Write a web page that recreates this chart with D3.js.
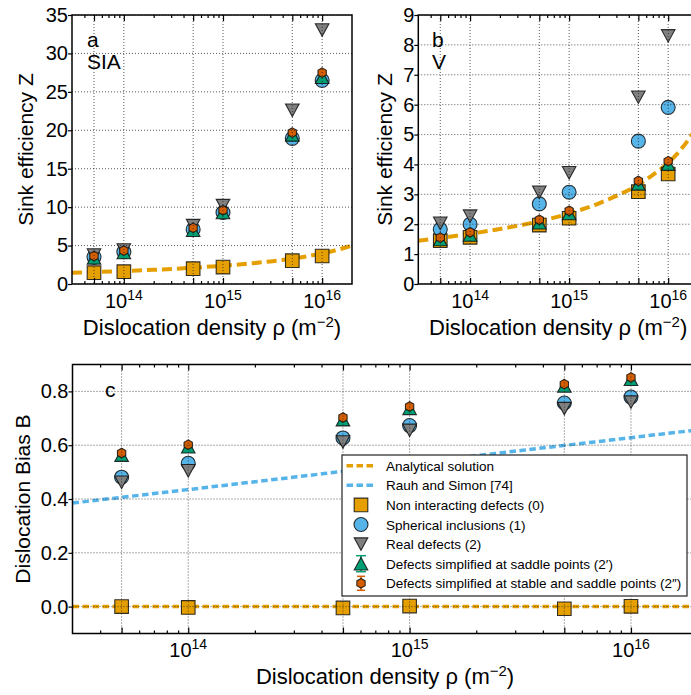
<!DOCTYPE html>
<html>
<head>
<meta charset="utf-8">
<script src="https://cdn.jsdelivr.net/npm/d3@7"></script>
<style>
  body { margin: 0; background: #fff; }
  text { font-family: "Liberation Sans", Arial, Helvetica, sans-serif; fill: #000; }
</style>
</head>
<body>
<svg id="fig" width="691" height="695"></svg>
<script>
// Dislocation densities (m^-2) at which simulations were run
const densities = [5e13, 1e14, 5e14, 1e15, 5e15, 1e16];

// (a) SIA sink efficiency Z
const siaNonInteracting = [1.47, 1.60, 2.00, 2.20, 3.04, 3.64];
const siaSpherical      = [3.50, 4.20, 7.10, 9.30, 18.95, 26.50];
const siaReal           = [3.77, 4.42, 7.60, 10.20, 22.60, 33.05];
const siaSaddle         = [3.40, 4.10, 7.00, 9.30, 19.40, 26.90];
const siaStableSaddle   = [3.64, 4.34, 7.30, 9.60, 19.70, 27.50];

// (b) vacancy sink efficiency Z
const vNonInteracting = [1.45, 1.56, 1.97, 2.20, 3.09, 3.68];
const vSpherical      = [1.83, 2.00, 2.68, 3.07, 4.78, 5.91];
const vReal           = [2.03, 2.27, 3.07, 3.72, 6.25, 8.30];
const vSaddle         = [1.49, 1.64, 2.05, 2.36, 3.35, 4.01];
const vStableSaddle   = [1.55, 1.73, 2.15, 2.45, 3.45, 4.11];

// (c) dislocation bias B
const biasNonInteracting = [0.000, -0.003, -0.005, 0.002, -0.008, 0.001];
const biasSpherical      = [0.481, 0.533, 0.627, 0.673, 0.757, 0.779];
const biasReal           = [0.462, 0.505, 0.612, 0.655, 0.736, 0.760];
const biasSaddle         = [0.563, 0.594, 0.695, 0.737, 0.820, 0.845];
const biasStableSaddle   = [0.571, 0.602, 0.703, 0.744, 0.827, 0.852];

// Analytical sink efficiency curves
const curveDensities = [3e13, 5e13, 1e14, 2e14, 5e14, 1e15, 2e15, 3e15, 5e15, 7e15, 1e16, 1.5e16, 2e16];
const siaAnalytical  = [1.47, 1.56, 1.69, 1.85, 2.12, 2.38, 2.70, 2.94, 3.31, 3.60, 3.98, 4.52, 5.00];
const vAnalytical    = [1.45, 1.54, 1.68, 1.84, 2.10, 2.36, 2.70, 2.95, 3.32, 3.65, 4.05, 4.70, 5.30];

// Bias: analytical solution and Rauh & Simon model
const rauhDensities  = [3e13, 1e14, 1e15, 1e16, 2e16];
const biasAnalytical = [0, 0, 0, 0, 0];
const rauhSimon      = [0.385, 0.435, 0.532, 0.628, 0.657];

// Axis ticks and labels
const xDomain = [3e13, 2e16];
const decadeTicks = [1e14, 1e15, 1e16];
const decadeExponents = ["14", "15", "16"];
const zTicksSIA = [0, 5, 10, 15, 20, 25, 30, 35];
const zTicksV = [0, 1, 2, 3, 4, 5, 6, 7, 8, 9];
const biasTicks = [0.0, 0.2, 0.4, 0.6, 0.8];

const legendLabels = [
  "Analytical solution",
  "Rauh and Simon [74]",
  "Non interacting defects (0)",
  "Spherical inclusions (1)",
  "Real defects (2)",
  "Defects simplified at saddle points (2\u2032)",
  "Defects simplified at stable and saddle points (2\u2033)"
];

const C = {
  orange: "#E69F00", blue: "#56B4E9", gray: "#808080",
  teal: "#009E73", red: "#D55E00"
};

// Marker shapes (centred at origin)
const markerPath = {
  square: s => `M${-s},${-s}H${s}V${s}H${-s}Z`,
  circle: s => `M${-s},0A${s},${s} 0 1,0 ${s},0A${s},${s} 0 1,0 ${-s},0Z`,
  tdown:  s => `M${-s},${-s * 0.92}L${s},${-s * 0.92}L0,${s * 0.92}Z`,
  tup:    s => `M${-s},${s * 0.92}L${s},${s * 0.92}L0,${-s * 0.92}Z`,
  hex:    s => {
    const pts = d3.range(6).map(i => {
      const a = Math.PI / 2 + i * Math.PI / 3;
      return [s * Math.cos(a), -s * Math.sin(a)];
    });
    return "M" + pts.map(p => p.join(",")).join("L") + "Z";
  }
};
const markerStyle = {
  square: { fill: C.orange, size: 6.8 },
  circle: { fill: C.blue, size: 7 },
  tdown:  { fill: C.gray, size: 6.8 },
  tup:    { fill: C.teal, size: 6.8 },
  hex:    { fill: C.red, size: 4.8 }
};

const svg = d3.select("#fig");

function drawMarker(g, shape, cx, cy) {
  const st = markerStyle[shape];
  g.append("path")
    .attr("transform", `translate(${cx},${cy})`)
    .attr("d", markerPath[shape](st.size))
    .attr("fill", st.fill)
    .attr("stroke", "#111")
    .attr("stroke-opacity", 0.85)
    .attr("stroke-width", 1.1);
}

function drawPanel(p) {
  const x = d3.scaleLog().domain(xDomain).range([p.left, p.right]);
  const y = d3.scaleLinear().domain(p.yDomain).range([p.bottom, p.top]);
  const g = svg.append("g");

  const clipId = "clip-" + p.id;
  svg.append("clipPath").attr("id", clipId).append("rect")
    .attr("x", p.left).attr("y", p.top)
    .attr("width", p.right - p.left).attr("height", p.bottom - p.top);
  const plot = g.append("g").attr("clip-path", `url(#${clipId})`);

  // model curves
  p.lines.forEach(l => {
    plot.append("path")
      .datum(l.xs.map((d, i) => [d, l.ys[i]]))
      .attr("d", d3.line().x(d => x(d[0])).y(d => y(d[1])).curve(d3.curveMonotoneX))
      .attr("fill", "none")
      .attr("stroke", l.color)
      .attr("stroke-width", p.lineWidth)
      .attr("stroke-dasharray", p.dash);
  });

  // simulation results
  p.series.forEach(s => {
    densities.forEach((d, i) => drawMarker(plot, s.shape, x(d), y(s.values[i])));
  });

  // dotted grid over the data
  const grid = plot.append("g")
    .attr("stroke", "#222").attr("stroke-width", 1)
    .attr("stroke-dasharray", "1,2").attr("stroke-opacity", 0.75);
  densities.forEach(d => grid.append("line")
    .attr("x1", x(d)).attr("x2", x(d)).attr("y1", p.top).attr("y2", p.bottom));
  p.yTicks.forEach(v => grid.append("line")
    .attr("x1", p.left).attr("x2", p.right).attr("y1", y(v)).attr("y2", y(v)));

  // x ticks (inward, top and bottom)
  const minor = [];
  for (let e = 13; e <= 16; e++) for (let m = 2; m <= 9; m++) {
    const v = m * Math.pow(10, e);
    if (v > xDomain[0] && v < xDomain[1] && !densities.includes(v)) minor.push(v);
  }
  const axisStyle = sel => {
    sel.select(".domain").remove();
    sel.selectAll(".tick line").attr("stroke", "#000").attr("stroke-width", 1.2);
  };
  g.append("g").attr("transform", `translate(0,${p.bottom})`)
    .call(d3.axisBottom(x).tickValues(densities).tickSize(-6).tickFormat("")).call(axisStyle);
  g.append("g").attr("transform", `translate(0,${p.bottom})`)
    .call(d3.axisBottom(x).tickValues(minor).tickSize(-3).tickFormat("")).call(axisStyle);
  g.append("g").attr("transform", `translate(0,${p.top})`)
    .call(d3.axisTop(x).tickValues(densities).tickSize(-6).tickFormat("")).call(axisStyle);
  g.append("g").attr("transform", `translate(0,${p.top})`)
    .call(d3.axisTop(x).tickValues(minor).tickSize(-3).tickFormat("")).call(axisStyle);

  // x tick labels 10^n
  decadeTicks.forEach((v, i) => {
    const t = g.append("text")
      .attr("x", x(v)).attr("y", p.tickLabelY)
      .attr("text-anchor", "middle").attr("font-size", 20);
    t.append("tspan").text("10");
    t.append("tspan").attr("font-size", 14).attr("dy", -8).text(decadeExponents[i]);
  });

  // y axis
  const ya = g.append("g").attr("transform", `translate(${p.left},0)`)
    .call(d3.axisLeft(y).tickValues(p.yTicks).tickSize(4).tickPadding(0).tickFormat(p.fmt));
  ya.select(".domain").remove();
  ya.selectAll(".tick line").attr("stroke", "#000").attr("stroke-width", 1.2);
  ya.selectAll(".tick text").attr("font-size", 20)
    .attr("font-family", '"Liberation Sans", Arial, sans-serif').attr("fill", "#000");

  // frame
  g.append("rect").attr("x", p.left).attr("y", p.top)
    .attr("width", p.right - p.left).attr("height", p.bottom - p.top)
    .attr("fill", "none").attr("stroke", "#000").attr("stroke-width", 1.5);

  // axis titles
  const xl = g.append("text").attr("x", (p.left + p.right) / 2).attr("y", p.xLabelY)
    .attr("text-anchor", "middle").attr("font-size", 22);
  xl.append("tspan").text("Dislocation density \u03C1 (m");
  xl.append("tspan").attr("font-size", 15).attr("dy", -8).text("\u22122");
  xl.append("tspan").attr("dy", 8).text(")");

  g.append("text")
    .attr("transform", `translate(${p.yLabelX},${(p.top + p.bottom) / 2}) rotate(-90)`)
    .attr("text-anchor", "middle").attr("font-size", 21).text(p.yLabel);

  // panel tags
  p.tags.forEach(t => g.append("text").attr("x", t.x).attr("y", t.y)
    .attr("font-size", 21).text(t.text));

  return { x, y, g };
}

const seriesOf = vals => [
  { shape: "square", values: vals[0] },
  { shape: "circle", values: vals[1] },
  { shape: "tdown",  values: vals[2] },
  { shape: "tup",    values: vals[3] },
  { shape: "hex",    values: vals[4] }
];

drawPanel({
  id: "a", left: 72, right: 352, top: 15, bottom: 284,
  yDomain: [0, 35], yTicks: zTicksSIA, fmt: d3.format("d"),
  tickLabelY: 308, xLabelY: 335, yLabelX: 33, yLabel: "Sink efficiency Z",
  lineWidth: 4, dash: "10,5",
  lines: [{ xs: curveDensities, ys: siaAnalytical, color: C.orange }],
  series: seriesOf([siaNonInteracting, siaSpherical, siaReal, siaSaddle, siaStableSaddle]),
  tags: [{ x: 87, y: 47, text: "a" }, { x: 87, y: 69, text: "SIA" }]
});

drawPanel({
  id: "b", left: 418.3, right: 698, top: 15, bottom: 284,
  yDomain: [0, 9], yTicks: zTicksV, fmt: d3.format("d"),
  tickLabelY: 308, xLabelY: 335, yLabelX: 392, yLabel: "Sink efficiency Z",
  lineWidth: 4, dash: "10,5",
  lines: [{ xs: curveDensities, ys: vAnalytical, color: C.orange }],
  series: seriesOf([vNonInteracting, vSpherical, vReal, vSaddle, vStableSaddle]),
  tags: [{ x: 432, y: 47, text: "b" }, { x: 432, y: 69, text: "V" }]
});

const pc = drawPanel({
  id: "c", left: 72.5, right: 697.6, top: 364.5, bottom: 633.5,
  yDomain: [-0.1, 0.9], yTicks: biasTicks, fmt: d3.format(".1f"),
  tickLabelY: 657, xLabelY: 684, yLabelX: 30, yLabel: "Dislocation Bias B",
  lineWidth: 3.5, dash: "6.5,3.5",
  lines: [
    { xs: rauhDensities, ys: biasAnalytical, color: C.orange },
    { xs: rauhDensities, ys: rauhSimon, color: C.blue }
  ],
  series: seriesOf([biasNonInteracting, biasSpherical, biasReal, biasSaddle, biasStableSaddle]),
  tags: [{ x: 105, y: 397, text: "c" }]
});

// legend in panel c
(function legend() {
  const lg = svg.append("g");
  const bx = 342, by = 455, bw = 345, bh = 141;
  lg.append("rect").attr("x", bx).attr("y", by).attr("width", bw).attr("height", bh)
    .attr("fill", "#fff").attr("stroke", "#222").attr("stroke-width", 1.2);
  const hx = 361, row0 = 465.7, dy = 19.6;
  legendLabels.forEach((lab, i) => {
    const cy = row0 + i * dy;
    if (i < 2) {
      lg.append("line").attr("x1", 346.5).attr("x2", 375.5).attr("y1", cy).attr("y2", cy)
        .attr("stroke", i === 0 ? C.orange : C.blue).attr("stroke-width", 3.5)
        .attr("stroke-dasharray", "6.5,3.5");
    } else {
      const shape = ["square", "circle", "tdown", "tup", "hex"][i - 2];
      if (shape === "tup" || shape === "hex") {
        const half = shape === "tup" ? 8 : 7;
        const cap = shape === "tup" ? 5 : 4;
        const col = shape === "tup" ? C.teal : C.red;
        const eb = lg.append("g").attr("stroke", col).attr("stroke-width", 1.5);
        eb.append("line").attr("x1", hx).attr("x2", hx).attr("y1", cy - half).attr("y2", cy + half);
        eb.append("line").attr("x1", hx - cap).attr("x2", hx + cap).attr("y1", cy - half).attr("y2", cy - half);
        eb.append("line").attr("x1", hx - cap).attr("x2", hx + cap).attr("y1", cy + half).attr("y2", cy + half);
      }
      drawMarker(lg, shape, hx, cy);
    }
    lg.append("text").attr("x", 386).attr("y", cy + 5).attr("font-size", 13.5).text(lab);
  });
})();
</script>
</body>
</html>
